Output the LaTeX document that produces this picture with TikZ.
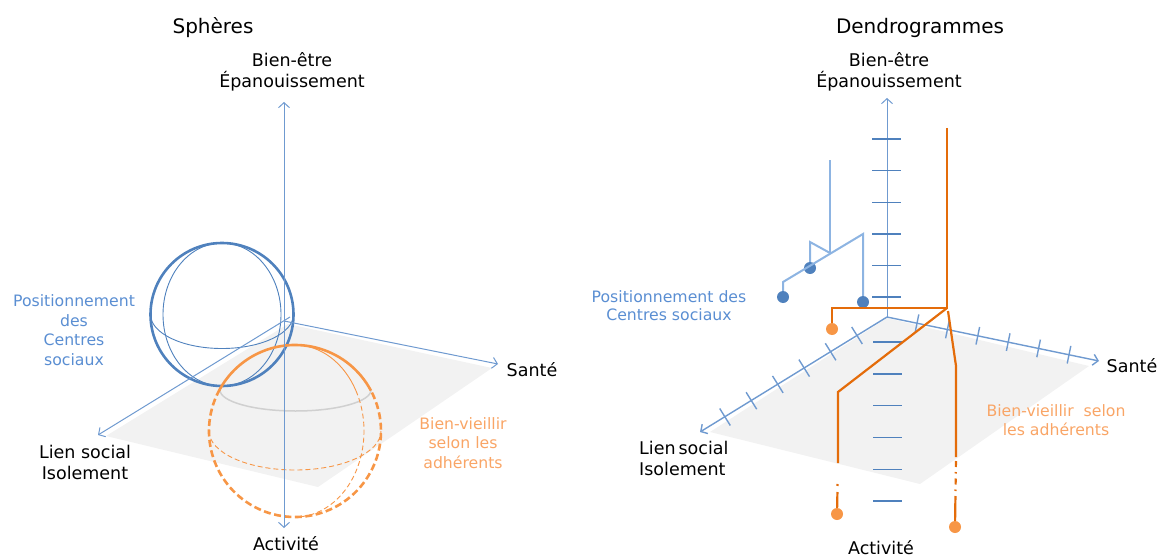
\documentclass[tikz,border=0pt]{standalone}
\usepackage{fontspec}
\setmainfont{DejaVu Sans}
\usepackage{xcolor}
\usepackage{tikz}
\usetikzlibrary{arrows.meta}

\definecolor{bleu}{HTML}{4F81BD}
\definecolor{bleuclair}{HTML}{8DB4E2}
\definecolor{bleuaxe}{HTML}{6F9AD0}
\definecolor{bleutexte}{HTML}{5A8ED2}
\definecolor{orangeclair}{HTML}{F79646}
\definecolor{orangefonce}{HTML}{E46C0A}
\definecolor{orangetexte}{HTML}{F9A566}
\definecolor{plan}{HTML}{F2F2F2}
\definecolor{grisarc}{HTML}{D0D0D0}

\begin{document}
\begin{tikzpicture}[x=1pt, y=-1pt, >={Straight Barb[length=5pt,width=11pt]},
    titre/.style={font=\fontsize{20}{24}\selectfont, inner sep=0pt},
    lbl/.style={font=\fontsize{17.5}{21}\selectfont, inner sep=0pt, align=center},
    lblbleu/.style={font=\fontsize{15.7}{19.5}\selectfont, text=bleutexte, inner sep=0pt, align=center},
    lblorange/.style={font=\fontsize{15.7}{19.5}\selectfont, text=orangetexte, inner sep=0pt, align=center},
    axe/.style={draw=bleuaxe, line width=1pt},
    axeclair/.style={draw=bleuaxe, line width=1.4pt},
    graduation/.style={draw=bleu, line width=1.4pt},
    pointbleu/.style={circle, fill=bleu, inner sep=0pt, minimum size=12pt},
    pointorange/.style={circle, fill=orangeclair, inner sep=0pt, minimum size=12pt},
    dendrobleu/.style={draw=bleuclair, line width=2pt},
    dendroorange/.style={draw=orangefonce, line width=2.2pt}]
    \useasboundingbox (0,0) rectangle (1164,559);

    % Sphères : plan
    \fill[plan] (288,324) -- (106,436) -- (318,487) -- (492,368) -- cycle;
    \coordinate (O1) at (284,321);
    \coordinate (O1b) at (290,317);
    \coordinate (haut1) at (284,102);
    \coordinate (bas1) at (284,528);
    \coordinate (sante1) at (498,364);
    \coordinate (lien1) at (98,435);

    % Sphère bleue
    \coordinate (S1) at (222,314.5);
    \draw[bleu, line width=2.6pt] (S1) circle[radius=71.5pt];
    \draw[bleu, line width=0.9pt] (S1) ellipse[x radius=59pt, y radius=71.5pt];
    \draw[bleu, line width=0.9pt] (S1) ++(-71.5pt,0pt)
        arc[start angle=180, end angle=360, x radius=71.5pt, y radius=34pt];

    % Sphère orange
    \coordinate (S2) at (295,431);
    \draw[grisarc, line width=1.5pt] (S2) ++(-75pt,41pt)
        arc[start angle=180, end angle=360, x radius=75.5pt, y radius=21pt];
    \draw[orangeclair, line width=2.6pt] (S2) ++(28:86pt)
        arc[start angle=28, end angle=151, radius=86pt];
    \draw[orangeclair, line width=2.6pt, dash pattern=on 7pt off 3.5pt] (S2) ++(151:86pt)
        arc[start angle=151, end angle=388, radius=86pt];
    \draw[orangeclair, line width=0.9pt] (S2) ++(0pt,86pt)
        arc[start angle=90, end angle=28, x radius=69pt, y radius=86pt];
    \draw[orangeclair, line width=0.9pt, dash pattern=on 5pt off 3pt] (S2) ++(28:69pt and 86pt)
        arc[start angle=28, end angle=-90, x radius=69pt, y radius=86pt];
    \draw[orangeclair, line width=0.9pt, dash pattern=on 5pt off 3pt] (S2) ++(-86pt,0pt)
        arc[start angle=180, end angle=360, x radius=86pt, y radius=39pt];

    % Sphères : axes
    \draw[axe, <->] (haut1) -- (bas1);
    \draw[axe, ->] (O1) -- (sante1);
    \draw[axe, ->] (O1b) -- (lien1);

    % Sphères : textes
    \node[titre] (titre1) at (213,28) {Sphères};
    \node[lbl] (be1) at (292,72) {Bien-être\\Épanouissement};
    \node[lbl] (ls1) at (85,462) {Lien social\\Isolement};
    \node[lbl] (s1) at (532,370) {Santé};
    \node[lbl] (a1) at (286,544) {Activité};
    \node[lblbleu] (cs1) at (74,330) {Positionnement\\des\\Centres\\sociaux};
    \node[lblorange] (bv1) at (463,443) {Bien-vieillir\\selon les\\adhérents};

    % Dendrogrammes : plan et axes
    \fill[plan] (887,318) -- (710,432) -- (920,484) -- (1089,366) -- cycle;
    \coordinate (O2) at (887,317);
    \coordinate (haut2) at (887,98);
    \coordinate (sante2) at (1099,361);
    \coordinate (lien2) at (700,432);
    \draw[axe, ->] (O2) -- (haut2);
    \draw[axeclair, ->] (O2) -- (sante2);
    \draw[axeclair, ->] (O2) -- (lien2);
    \foreach \k in {0,...,5} {
        \draw[graduation] (872,{297-31.6*\k}) -- (901,{297-31.6*\k});
        \draw[graduation] (873,{342+31.8*\k}) -- (902,{342+31.8*\k});
        \draw[axeclair] ({918.8+30.4*\k},{314.4+6.3*\k}) -- ({915.2+30.4*\k},{332+6.3*\k});
        \draw[axeclair] ({851.7-26.4*\k},{327+16.3*\k}) -- ({862.3-26.4*\k},{344+16.3*\k});
    }

    % Dendrogramme bleu
    \node[pointbleu] (pb1) at (783,297) {};
    \node[pointbleu] (pb2) at (810,268) {};
    \node[pointbleu] (pb3) at (863,302) {};
    \coordinate (nb1) at (783,282);
    \coordinate (nb2) at (863,234);
    \coordinate (nb3) at (810,242);
    \coordinate (nb4) at (830,253);
    \coordinate (rb) at (830,160);
    \draw[dendrobleu] (pb1) -- (nb1) -- (nb2) -- (pb3);
    \draw[dendrobleu] (pb2) -- (nb3) -- (nb4);
    \draw[dendrobleu] (nb4) -- (rb);

    % Dendrogramme orange
    \node[pointorange] (po1) at (832,329) {};
    \node[pointorange] (po2) at (837,514) {};
    \node[pointorange] (po3) at (955,527) {};
    \coordinate (ro) at (947,128);
    \coordinate (no) at (947,308);
    \coordinate (no1) at (832,308);
    \coordinate (no2) at (838,392);
    \coordinate (no3) at (838,463);
    \coordinate (no4) at (948,311);
    \coordinate (no5) at (956,366);
    \coordinate (no6) at (956,457);
    \draw[dendroorange] (ro) -- (no) -- (no1) -- (po1);
    \draw[dendroorange] (no) -- (no2) -- (no3);
    \draw[dendroorange, dash pattern=on 0pt off 21pt on 2pt off 6pt on 40pt] (no3) -- (po2);
    \draw[dendroorange] (no4) -- (no5) -- (no6);
    \draw[dendroorange, dash pattern=on 0pt off 4pt on 6pt off 5pt on 1.5pt off 5pt on 6pt off 5pt on 1.5pt off 5pt on 30pt] (no6) -- (po3);

    % Dendrogrammes : textes
    \node[titre] (titre2) at (920,28) {Dendrogrammes};
    \node[lbl] (be2) at (889,72) {Bien-être\\Épanouissement};
    \node[lbl, align=left, anchor=west] (ls2) at (639,458.5) {Lien\,social\\Isolement};
    \node[lbl] (s2) at (1132,366) {Santé};
    \node[lbl] (a2) at (881,548) {Activité};
    \node[lblbleu, font=\fontsize{15.7}{18}\selectfont] (cs2) at (669,306) {Positionnement des\\Centres sociaux};
    \node[lblorange] (bv2) at (1056,420) {Bien-vieillir\ \ selon\\les adhérents};
\end{tikzpicture}
\end{document}
